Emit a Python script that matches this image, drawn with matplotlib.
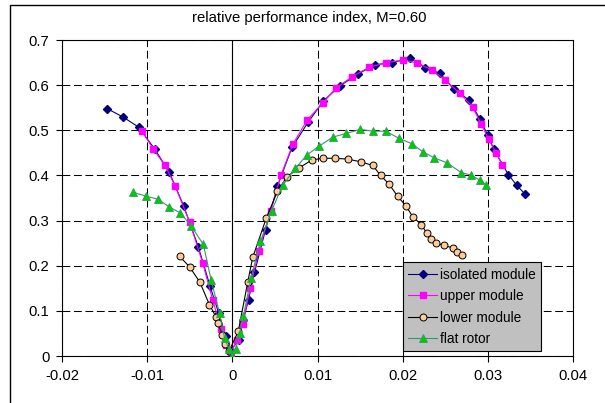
import matplotlib
matplotlib.use("Agg")
import matplotlib.pyplot as plt
from matplotlib.patches import Rectangle

plt.rcParams['font.family'] = ['Liberation Sans', 'DejaVu Sans']
plt.rcParams['axes.unicode_minus'] = False

# isolated module
x_iso = [-0.0147, -0.0128, -0.0110, -0.0091, -0.0074, -0.0057, -0.0040, -0.0026, -0.0016, -0.0008, -0.0002,
         0.0008, 0.0013, 0.0019, 0.0026, 0.0039, 0.0053, 0.0070, 0.0089, 0.0107, 0.0126, 0.0147, 0.0167,
         0.0188, 0.0209, 0.0226, 0.0244, 0.0260, 0.0278, 0.0291, 0.0300, 0.0307, 0.0324, 0.0334, 0.0344]
y_iso = [0.548, 0.529, 0.507, 0.458, 0.407, 0.332, 0.242, 0.154, 0.095, 0.045, 0.012,
         0.036, 0.080, 0.125, 0.185, 0.280, 0.376, 0.462, 0.518, 0.565, 0.598, 0.624, 0.645,
         0.650, 0.660, 0.639, 0.626, 0.591, 0.567, 0.524, 0.489, 0.458, 0.402, 0.378, 0.358]

# upper module
x_up = [-0.0106, -0.0093, -0.0079, -0.0067, -0.0050, -0.0035, -0.0023, -0.0013, -0.0007, -0.0002,
        0.0006, 0.0012, 0.0021, 0.0031, 0.0045, 0.0057, 0.0071, 0.0088, 0.0106, 0.0122, 0.0141, 0.0161,
        0.0180, 0.0200, 0.0217, 0.0234, 0.0250, 0.0267, 0.0282, 0.0292, 0.0301, 0.0310, 0.0317]
y_up = [0.498, 0.459, 0.422, 0.376, 0.296, 0.207, 0.124, 0.059, 0.024, 0.008,
        0.036, 0.071, 0.150, 0.233, 0.321, 0.400, 0.469, 0.523, 0.560, 0.594, 0.619, 0.640,
        0.649, 0.656, 0.649, 0.634, 0.611, 0.582, 0.552, 0.514, 0.480, 0.449, 0.424]

# lower module
x_lo = [-0.0062, -0.0050, -0.0038, -0.0027, -0.0019, -0.0017, -0.0012, -0.0009, -0.0004,
        0.0007, 0.0018, 0.0024, 0.0040, 0.0053, 0.0064, 0.0078, 0.0093, 0.0106, 0.0121, 0.0136, 0.0151,
        0.0165, 0.0174, 0.0184, 0.0194, 0.0204, 0.0212, 0.0222, 0.0228, 0.0233, 0.0239, 0.0249, 0.0259,
        0.0264, 0.0270]
y_lo = [0.221, 0.197, 0.163, 0.114, 0.086, 0.073, 0.047, 0.027, 0.010,
        0.055, 0.163, 0.219, 0.306, 0.365, 0.397, 0.416, 0.434, 0.438, 0.438, 0.436, 0.430,
        0.422, 0.400, 0.381, 0.354, 0.332, 0.308, 0.291, 0.273, 0.259, 0.250, 0.245, 0.239,
        0.230, 0.223]

# flat rotor
x_fl = [-0.0117, -0.0101, -0.0087, -0.0074, -0.0061, -0.0048, -0.0034, -0.0025, -0.0015, -0.0009, -0.0004,
        0.0000, 0.0004, 0.0009, 0.0013, 0.0022, 0.0033, 0.0046, 0.0059, 0.0074, 0.0088, 0.0102, 0.0118,
        0.0134, 0.0150, 0.0165, 0.0180, 0.0196, 0.0211, 0.0224, 0.0237, 0.0252, 0.0269, 0.0280, 0.0291, 0.0298]
y_fl = [0.363, 0.354, 0.347, 0.330, 0.317, 0.287, 0.247, 0.169, 0.095, 0.039, 0.015,
        0.000, 0.015, 0.050, 0.089, 0.173, 0.254, 0.321, 0.378, 0.416, 0.446, 0.465, 0.485,
        0.493, 0.502, 0.498, 0.498, 0.482, 0.470, 0.452, 0.439, 0.428, 0.406, 0.401, 0.389, 0.379]

x_ticks = [-0.02, -0.01, 0, 0.01, 0.02, 0.03, 0.04]
x_labels = ['-0.02', '-0.01', '0', '0.01', '0.02', '0.03', '0.04']
y_ticks = [0, 0.1, 0.2, 0.3, 0.4, 0.5, 0.6, 0.7]
y_labels = ['0', '0.1', '0.2', '0.3', '0.4', '0.5', '0.6', '0.7']

fig = plt.figure(figsize=(6.05, 4.03), dpi=100)
ax = fig.add_axes([62 / 605, 47 / 403, 511 / 605, 316 / 403])

# rahmen um das ganze diagramm
fig.patches.append(Rectangle((10 / 605, -0.02), 1.0, 1 - 5 / 403 + 0.02, transform=fig.transFigure,
                             fill=False, edgecolor='black', linewidth=1.0))

ax.plot(x_iso, y_iso, color='#000080', lw=0.8, marker='D', ms=4.4,
        mfc='#000080', mec='#000080', label='isolated module', zorder=3)
ax.plot(x_up, y_up, color='#FF00FF', lw=0.8, marker='s', ms=5,
        mfc='#FF00FF', mec='#FF00FF', label='upper module', zorder=4)
ax.plot(x_lo, y_lo, color='black', lw=0.8, marker='o', ms=5,
        mfc='#FFCC99', mec='black', mew=0.7, label='lower module', zorder=5)
ax.plot(x_fl, y_fl, color='#339966', lw=0.8, marker='^', ms=5.5,
        mfc='#00CC00', mec='#339966', mew=0.6, label='flat rotor', zorder=6)

ax.set_xlim(-0.02, 0.04)
ax.set_ylim(0, 0.7)
ax.set_xticks(x_ticks)
ax.set_xticklabels(x_labels)
ax.set_yticks(y_ticks)
ax.set_yticklabels(y_labels)
ax.tick_params(labelsize=10.7, length=4, width=0.8, pad=5)

ax.grid(True, color='black', linestyle=(0, (7.5, 3.5)), linewidth=0.75)
ax.axvline(0, color='black', linewidth=0.8, zorder=2)
for s in ax.spines.values():
    s.set_linewidth(0.8)

fig.text(309 / 605, 1 - 18 / 403, 'relative performance index, M=0.60',
         ha='center', va='center', fontsize=10.7)

leg = ax.legend(loc='upper left', bbox_to_anchor=(0.667, 0.297), borderaxespad=0,
                fontsize=9.8, numpoints=1, handlelength=2.1, handletextpad=0.2,
                labelspacing=0.55, borderpad=0.4, fancybox=False, framealpha=1,
                facecolor='#C0C0C0', edgecolor='black')
leg.get_frame().set_linewidth(0.8)

plt.savefig('out.png', dpi=100)
